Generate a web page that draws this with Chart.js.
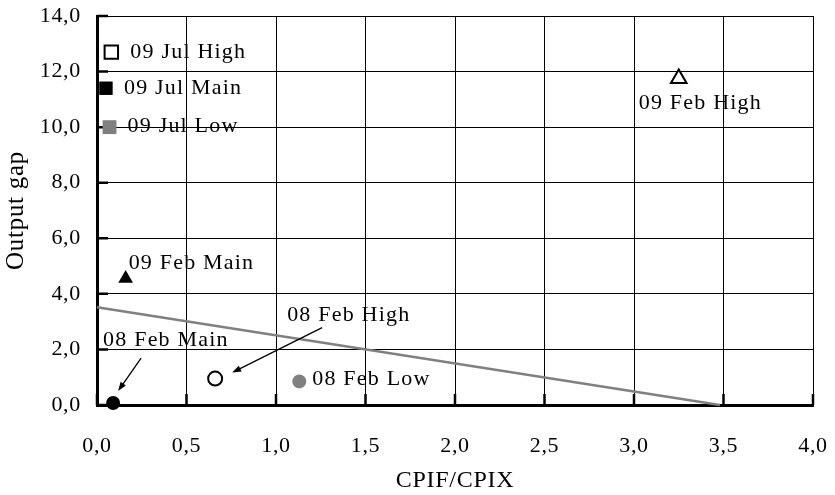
<!DOCTYPE html>
<html>
<head>
<meta charset="utf-8">
<script src="https://cdn.jsdelivr.net/npm/chart.js@4/dist/chart.umd.min.js"></script>
<style>
  html, body { margin: 0; padding: 0; background: #fff; }
  #wrap { width: 835px; height: 495px; }
</style>
</head>
<body>
<div id="wrap"><canvas id="c" width="835" height="495"></canvas></div>
<script>
// Forecast scenarios: inflation ratio (CPIF/CPIX) against output gap
const seriesNames = ['09 Jul High', '09 Jul Main', '09 Jul Low', '09 Feb High',
                     '09 Feb Main', '08 Feb High', '08 Feb Main', '08 Feb Low'];
const cpifValues = [0.08, 0.05, 0.07, 3.25, 0.16, 0.66, 0.09, 1.13];
const outputGapValues = [12.7, 11.4, 10.0, 11.75, 4.55, 0.95, 0.07, 0.85];

// Trade-off line end points
const frontierX = [0, 3.48];
const frontierY = [3.52, 0];

// Axis tick values
const xTickValues = [0, 0.5, 1.0, 1.5, 2.0, 2.5, 3.0, 3.5, 4.0];
const yTickValues = [0, 2, 4, 6, 8, 10, 12, 14];

const SERIF = "'Liberation Serif', 'Times New Roman', serif";
const GREY = '#808080';

// Marker look per scenario
const markerStyles = [
  { pointStyle: 'rect',     radius: 9.5, fill: '#ffffff', border: '#000000', bw: 2 },
  { pointStyle: 'rect',     radius: 9.5, fill: '#000000', border: '#000000', bw: 0 },
  { pointStyle: 'rect',     radius: 9.8, fill: GREY,      border: GREY,      bw: 0 },
  { pointStyle: 'triangle', radius: 9,   fill: '#ffffff', border: '#000000', bw: 2 },
  { pointStyle: 'triangle', radius: 8.5, fill: '#000000', border: '#000000', bw: 0 },
  { pointStyle: 'circle',   radius: 7,   fill: '#ffffff', border: '#000000', bw: 2 },
  { pointStyle: 'circle',   radius: 7,   fill: '#000000', border: '#000000', bw: 0 },
  { pointStyle: 'circle',   radius: 7,   fill: GREY,      border: GREY,      bw: 0 }
];

// Label placement relative to each marker (pixels), optional arrow from label to marker
const labelPlacement = [
  { dx: 19,  dy: 0 },
  { dx: 18,  dy: 0 },
  { dx: 18,  dy: -1 },
  { dx: -40, dy: 25 },
  { dx: 3,   dy: -15 },
  { dx: 72,  dy: -63, arrow: [107, -51, 17, -6] },
  { dx: -10, dy: -63, arrow: [28, -45, 5, -12] },
  { dx: 13,  dy: -2 }
];

const fmt = v => Number(v).toFixed(1).replace('.', ',');

const datasets = [{
  type: 'line',
  label: 'frontier',
  data: frontierX.map((x, i) => ({ x, y: frontierY[i] })),
  borderColor: GREY,
  borderWidth: 2.5,
  pointRadius: 0,
  fill: false,
  clip: false,
  order: 2
}];
seriesNames.forEach((name, i) => {
  const s = markerStyles[i];
  datasets.push({
    type: 'scatter',
    label: name,
    data: [{ x: cpifValues[i], y: outputGapValues[i] }],
    pointStyle: s.pointStyle,
    pointRadius: s.radius,
    pointBackgroundColor: s.fill,
    pointBorderColor: s.border,
    pointBorderWidth: s.bw,
    clip: false,
    order: 1
  });
});

// Slightly wider tracking for the axis text
const tracking = {
  id: 'tracking',
  beforeUpdate(chart) { chart.ctx.letterSpacing = '0.7px'; },
  beforeDraw(chart) { chart.ctx.letterSpacing = '0.7px'; }
};

// Short tick marks pointing into the plot area
const innerTicks = {
  id: 'innerTicks',
  beforeDatasetsDraw(chart) {
    const { ctx, chartArea: a, scales: { x, y } } = chart;
    ctx.save();
    ctx.strokeStyle = '#000';
    ctx.lineWidth = 2.5;
    ctx.beginPath();
    x.ticks.forEach(t => {
      const px = x.getPixelForValue(t.value);
      ctx.moveTo(px, a.bottom); ctx.lineTo(px, a.bottom - 11);
    });
    y.ticks.forEach(t => {
      const py = y.getPixelForValue(t.value);
      ctx.moveTo(a.left, py); ctx.lineTo(a.left + 11, py);
    });
    ctx.stroke();
    ctx.restore();
  }
};

// Scenario names and pointer arrows
const pointLabels = {
  id: 'pointLabels',
  afterDatasetsDraw(chart) {
    const { ctx } = chart;
    ctx.save();
    ctx.font = '22px ' + SERIF;
    ctx.letterSpacing = '1.2px';
    ctx.fillStyle = '#000';
    ctx.textAlign = 'left';
    ctx.textBaseline = 'middle';
    seriesNames.forEach((name, i) => {
      const el = chart.getDatasetMeta(i + 1).data[0];
      const p = labelPlacement[i];
      ctx.fillText(name, el.x + p.dx, el.y + p.dy);
      if (p.arrow) {
        const [sx, sy, ex, ey] = p.arrow;
        const x0 = el.x + sx, y0 = el.y + sy, x1 = el.x + ex, y1 = el.y + ey;
        const ang = Math.atan2(y1 - y0, x1 - x0);
        const hl = 9, hw = 3.2;
        ctx.strokeStyle = '#000';
        ctx.lineWidth = 1.3;
        ctx.beginPath();
        ctx.moveTo(x0, y0);
        ctx.lineTo(x1 - Math.cos(ang) * hl * 0.8, y1 - Math.sin(ang) * hl * 0.8);
        ctx.stroke();
        ctx.beginPath();
        ctx.moveTo(x1, y1);
        ctx.lineTo(x1 - Math.cos(ang) * hl - Math.sin(ang) * hw, y1 - Math.sin(ang) * hl + Math.cos(ang) * hw);
        ctx.lineTo(x1 - Math.cos(ang) * hl + Math.sin(ang) * hw, y1 - Math.sin(ang) * hl - Math.cos(ang) * hw);
        ctx.closePath();
        ctx.fill();
      }
    });
    ctx.restore();
  }
};

new Chart(document.getElementById('c'), {
  type: 'scatter',
  data: { datasets },
  options: {
    responsive: false,
    devicePixelRatio: 1,
    animation: false,
    events: [],
    layout: { padding: { top: 16, right: 22, left: 0, bottom: 0 } },
    plugins: { legend: { display: false }, tooltip: { enabled: false } },
    scales: {
      x: {
        type: 'linear',
        min: 0, max: 4,
        afterBuildTicks: s => { s.ticks = xTickValues.map(v => ({ value: v })); },
        afterFit: s => { s.height = 90; s.paddingLeft = 0; s.paddingRight = 0; },
        grid: { color: '#000', lineWidth: 1, drawTicks: false },
        border: { color: '#000', width: 3 },
        ticks: {
          padding: 28,
          color: '#000',
          font: { family: SERIF, size: 22 },
          maxRotation: 0,
          callback: v => fmt(v)
        },
        title: {
          display: true,
          text: 'CPIF/CPIX',
          color: '#000',
          font: { family: SERIF, size: 24 },
          padding: { top: 0, bottom: 0 }
        }
      },
      y: {
        type: 'linear',
        min: 0, max: 14,
        afterBuildTicks: s => { s.ticks = yTickValues.map(v => ({ value: v })); },
        afterFit: s => { s.width = 97; s.paddingTop = 0; s.paddingBottom = 0; },
        grid: { color: '#000', lineWidth: 1, drawTicks: false },
        border: { color: '#000', width: 3 },
        ticks: {
          padding: 16,
          color: '#000',
          font: { family: SERIF, size: 22 },
          callback: v => fmt(v)
        },
        title: {
          display: true,
          text: 'Output gap',
          color: '#000',
          font: { family: SERIF, size: 25 },
          padding: { top: 1, bottom: 0 }
        }
      }
    }
  },
  plugins: [tracking, innerTicks, pointLabels]
});
</script>
</body>
</html>
